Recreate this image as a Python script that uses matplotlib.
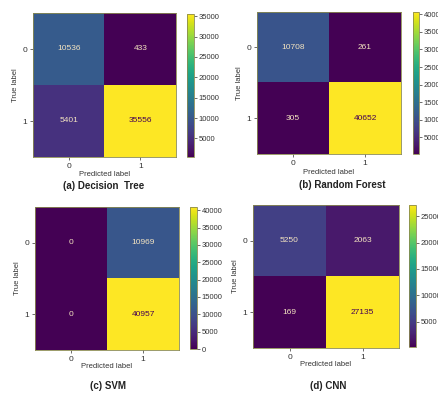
import matplotlib

matplotlib.use("Agg")
import matplotlib.pyplot as plt  # noqa: E402
import numpy as np  # noqa: E402

plt.rcParams["font.family"] = ["Liberation Sans", "DejaVu Sans"]

W, H = 438, 394

class_labels = ["0", "1"]
titles = ["(a) Decision  Tree", "(b) Random Forest", "(c) SVM", "(d) CNN"]
cm_dt = [[10536, 433], [5401, 35556]]
cm_rf = [[10708, 261], [305, 40652]]
cm_svm = [[0, 10969], [0, 40957]]
cm_cnn = [[5250, 2063], [169, 27135]]
cbar_ticks = [
    [5000, 10000, 15000, 20000, 25000, 30000, 35000],
    [5000, 10000, 15000, 20000, 25000, 30000, 35000, 40000],
    [0, 5000, 10000, 15000, 20000, 25000, 30000, 35000, 40000],
    [5000, 10000, 15000, 20000, 25000],
]

# pixel boxes (x0, y0, x1, y1) for heatmap and colorbar, x-label y, title (x, y)
layout = [
    dict(ax=(33, 13, 176, 157), cb=(187, 14, 194, 157), xl=174, t=(104, 186)),
    dict(ax=(257, 12, 401, 154), cb=(413, 12, 419, 154), xl=172, t=(342, 185)),
    dict(ax=(35, 207, 179, 350), cb=(190, 207, 197, 349), xl=367, t=(108, 386)),
    dict(ax=(253, 205, 399, 348), cb=(409, 205, 416, 347), xl=364, t=(328, 386)),
]


def rect(box):
    x0, y0, x1, y1 = box
    return [x0 / W, 1 - y1 / H, (x1 - x0) / W, (y1 - y0) / H]


fig = plt.figure(figsize=(W / 100, H / 100), dpi=100)
cmap = plt.get_cmap("viridis")
light_txt = "#f3e3c0"
dark_txt = cmap(0.0)

for cm, title, ticks, lay in zip([cm_dt, cm_rf, cm_svm, cm_cnn], titles, cbar_ticks, layout):
    cm = np.array(cm)
    ax = fig.add_axes(rect(lay["ax"]))
    im = ax.imshow(cm, cmap=cmap, aspect="auto")
    thresh = (cm.max() + cm.min()) / 2.0
    for i in range(2):
        for j in range(2):
            ax.text(j, i, str(cm[i, j]), ha="center", va="center", fontsize=6,
                    color=dark_txt if cm[i, j] >= thresh else light_txt)
    ax.set_xticks([0, 1], class_labels)
    ax.set_yticks([0, 1], class_labels)
    ax.tick_params(labelsize=6, length=2, width=0.5, pad=2, colors="#333333")
    ax.set_ylabel("True label", fontsize=5.5, color="#333333", labelpad=3)
    for s in ax.spines.values():
        s.set_linewidth(0.6)
        s.set_color("#8a8a50")
    x0, y0, x1, y1 = lay["ax"]
    fig.text((x0 + x1) / 2 / W, 1 - lay["xl"] / H, "Predicted label", fontsize=5.5,
             color="#333333", ha="center", va="center")
    tx, ty = lay["t"]
    fig.text(tx / W, 1 - ty / H, title, fontsize=7, fontweight="bold",
             color="#222222", ha="center", va="center")

    cax = fig.add_axes(rect(lay["cb"]))
    cb = fig.colorbar(im, cax=cax, ticks=ticks)
    cb.ax.tick_params(labelsize=5.5, length=2, width=0.5, pad=1.5, colors="#333333")
    cb.outline.set_linewidth(0.6)
    cb.outline.set_edgecolor("#8a8a50")

fig.savefig("out.png", dpi=100)
